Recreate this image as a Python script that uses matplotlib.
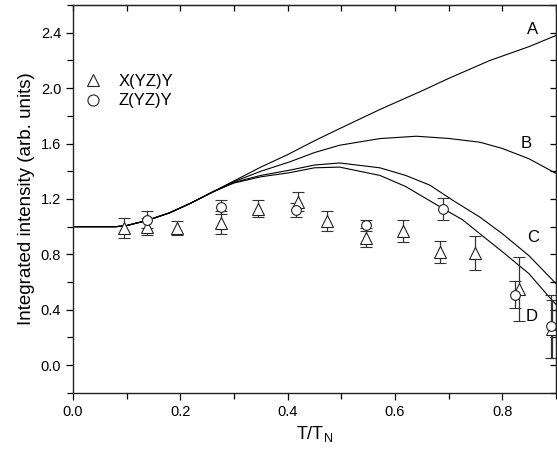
import matplotlib
matplotlib.use("Agg")
from matplotlib import pyplot as plt
from matplotlib.lines import Line2D
from matplotlib.ticker import MultipleLocator

plt.rcParams['font.family'] = ['Liberation Sans', 'DejaVu Sans']

# measured points, X(YZ)Y geometry (triangles)
t_x = [0.095, 0.138, 0.193, 0.276, 0.345, 0.419, 0.473, 0.547, 0.616, 0.684, 0.750, 0.831, 0.892]
i_x = [0.99, 1.00, 0.99, 1.03, 1.13, 1.18, 1.04, 0.92, 0.97, 0.82, 0.81, 0.55, 0.26]
e_x = [0.07, 0.06, 0.05, 0.08, 0.06, 0.07, 0.07, 0.07, 0.08, 0.08, 0.12, 0.23, 0.21]

# measured points, Z(YZ)Y geometry (circles)
t_z = [0.138, 0.276, 0.415, 0.547, 0.689, 0.823, 0.890]
i_z = [1.05, 1.14, 1.12, 1.01, 1.13, 0.51, 0.28]
e_z = [0.06, 0.05, 0.05, 0.04, 0.08, 0.10, 0.23]

# model curves A-D
t_low = [-0.02, 0.0, 0.05, 0.08, 0.10, 0.138, 0.18, 0.218, 0.26]
i_low = [1.0, 1.0, 1.0, 1.0, 1.008, 1.045, 1.10, 1.167, 1.25]

t_a = [0.30, 0.35, 0.40, 0.45, 0.497, 0.572, 0.65, 0.70, 0.777, 0.85, 0.90]
i_a = [1.33, 1.43, 1.52, 1.62, 1.708, 1.846, 1.98, 2.07, 2.20, 2.30, 2.38]
t_b = [0.30, 0.35, 0.404, 0.45, 0.497, 0.572, 0.64, 0.70, 0.758, 0.80, 0.85, 0.90]
i_b = [1.325, 1.40, 1.468, 1.535, 1.588, 1.636, 1.653, 1.637, 1.61, 1.565, 1.49, 1.385]
t_c = [0.30, 0.35, 0.404, 0.45, 0.497, 0.572, 0.62, 0.665, 0.708, 0.758, 0.80, 0.85, 0.90]
i_c = [1.32, 1.37, 1.408, 1.445, 1.46, 1.425, 1.37, 1.30, 1.19, 1.07, 0.95, 0.79, 0.59]
t_d = [0.30, 0.35, 0.404, 0.45, 0.497, 0.572, 0.62, 0.69, 0.726, 0.758, 0.80, 0.85, 0.888, 0.90]
i_d = [1.315, 1.36, 1.39, 1.425, 1.43, 1.37, 1.29, 1.13, 1.05, 0.95, 0.82, 0.66, 0.49, 0.44]

curve_labels = ['A', 'B', 'C', 'D']
label_pos = [(0.857, 2.42), (0.845, 1.60), (0.858, 0.92), (0.855, 0.35)]

fig = plt.figure(figsize=(5.57, 4.59), dpi=100)
ax = fig.add_axes([0.131, 0.144, 0.867, 0.845])

for tt, ii in [(t_a, i_a), (t_b, i_b), (t_c, i_c), (t_d, i_d)]:
    ax.plot(t_low + tt, i_low + ii, color='black', lw=0.8)

ax.errorbar(t_x, i_x, yerr=e_x, fmt='^', ms=8, mfc='white', mec='#222222', mew=0.8,
            ecolor='#333333', elinewidth=0.9, capsize=4, capthick=0.9)
ax.errorbar(t_z, i_z, yerr=e_z, fmt='o', ms=7, mfc='white', mec='#222222', mew=0.8,
            ecolor='#333333', elinewidth=0.9, capsize=4, capthick=0.9)

for lab, (px, py) in zip(curve_labels, label_pos):
    ax.text(px, py, lab, fontsize=12, ha='center', va='center')

ax.set_xlim(0, 0.9)
ax.set_ylim(-0.2, 2.6)
ax.xaxis.set_major_locator(MultipleLocator(0.2))
ax.xaxis.set_minor_locator(MultipleLocator(0.1))
ax.yaxis.set_major_locator(MultipleLocator(0.4))
ax.yaxis.set_minor_locator(MultipleLocator(0.2))
ax.tick_params(which='both', direction='out', labelsize=10.5, width=0.9)
ax.tick_params(which='major', length=5)
ax.tick_params(which='minor', length=4)
ax.set_xticklabels([f'{v:.1f}' for v in ax.get_xticks()])
ax.set_yticklabels([f'{v:.1f}' for v in ax.get_yticks()])

# mirrored ticks on top and right, pointing inwards
top = ax.secondary_xaxis('top')
top.xaxis.set_major_locator(MultipleLocator(0.2))
top.xaxis.set_minor_locator(MultipleLocator(0.1))
top.tick_params(which='both', direction='in', labeltop=False, length=4, width=0.9)
right = ax.secondary_yaxis('right')
right.yaxis.set_major_locator(MultipleLocator(0.4))
right.yaxis.set_minor_locator(MultipleLocator(0.2))
right.tick_params(which='both', direction='in', labelright=False, length=4, width=0.9)

for s in ax.spines.values():
    s.set_linewidth(1.0)
    s.set_color('#222222')

ax.set_xlabel('T/T$_\\mathregular{N}$', fontsize=13)
ax.set_ylabel('Integrated intensity (arb. units)', fontsize=13.5)

handles = [Line2D([], [], ls='none', marker='^', ms=9, mfc='white', mec='#222222', mew=0.8),
           Line2D([], [], ls='none', marker='o', ms=8, mfc='white', mec='#222222', mew=0.8)]
ax.legend(handles, ['X(YZ)Y', 'Z(YZ)Y'], loc='upper left', bbox_to_anchor=(0.003, 0.843),
          frameon=False, fontsize=12, borderpad=0, handletextpad=0.95,
          labelspacing=0.25, handlelength=1.2)

fig.savefig('out.png', dpi=100)
